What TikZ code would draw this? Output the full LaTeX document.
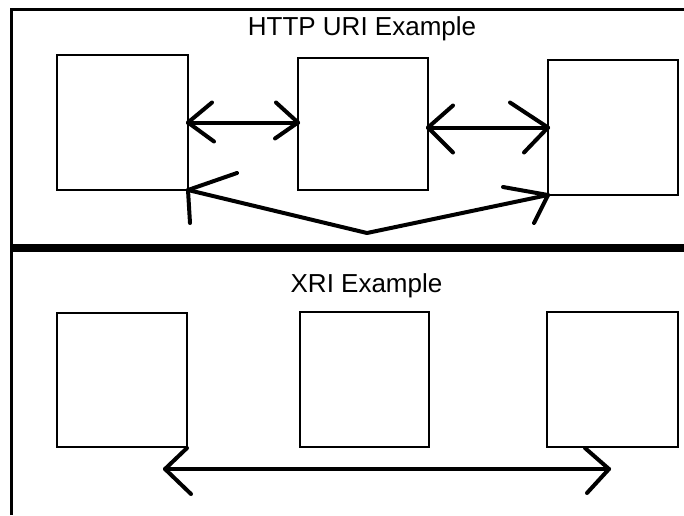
\documentclass[tikz,border=0pt]{standalone}
\usepackage{fontspec}
\setmainfont{Liberation Sans}
\usepackage{tikz}

\begin{document}
\begin{tikzpicture}[x=1pt,y=-1pt,
		box/.style={draw,line width=2pt,inner sep=0pt,outer sep=0pt,minimum width=130pt,minimum height=134pt},
		arr/.style={line width=4pt,line cap=round,line join=round},
		head/.style={font=\fontsize{26}{30}\selectfont,inner sep=0pt,anchor=base}]
				\useasboundingbox (0,0) rectangle (684,515);
				% Rahmen und Trennlinie
				\draw[line width=3pt] (11.5,515) |- (684,9.5);
				\draw[line width=8pt] (10,248) -- (684,248);
				% oben: HTTP URI
				\node[head] (t1) at (362,35) {HTTP URI Example};
				\node[box,minimum width=131pt,minimum height=135pt] (h1) at (122.5,122.5) {};
				\node[box,minimum height=132pt] (h2) at (363,124) {};
				\node[box,minimum height=135pt] (h3) at (613,127.5) {};
				\coordinate (vtx) at (367,233);
				\draw[arr] (h1.east) -- (h2.west |- h1.east);
				\draw[arr] (h1.east) -- ++(24,-20) (h1.east) -- ++(26,19);
				\draw[arr] (h2.west |- h1.east) -- ++(-22,-20) (h2.west |- h1.east) -- ++(-23,16);
				\draw[arr] (h2.east |- h3.west) -- (h3.west);
				\draw[arr] (h2.east |- h3.west) -- ++(25,-22) (h2.east |- h3.west) -- ++(25,25);
				\draw[arr] (h3.west) -- ++(-38,-25) (h3.west) -- ++(-24,25);
				\draw[arr] (h1.south east) -- (vtx) -- (h3.south west);
				\draw[arr] (h1.south east) -- ++(49,-17) (h1.south east) -- ++(2,33);
				\draw[arr] (h3.south west) -- ++(-45,-8) (h3.south west) -- ++(-14,28);
				% unten: XRI
				\node[head] (t2) at (366.5,292) {XRI Example};
				\node[box] (x1) at (122,380) {};
				\node[box,minimum width=129pt,minimum height=135pt] (x2) at (364.5,379.5) {};
				\node[box,minimum width=131pt,minimum height=135pt] (x3) at (612.5,379.5) {};
				\coordinate (xl) at (165,469);
				\coordinate (xr) at (609,469);
				\draw[arr] (xl) -- (xr);
				\draw[arr] (xl) -- ++(22,-21) (xl) -- ++(26,25);
				\draw[arr] (xr) -- ++(-24,-21) (xr) -- ++(-22,24);
			\end{tikzpicture}
\end{document}
